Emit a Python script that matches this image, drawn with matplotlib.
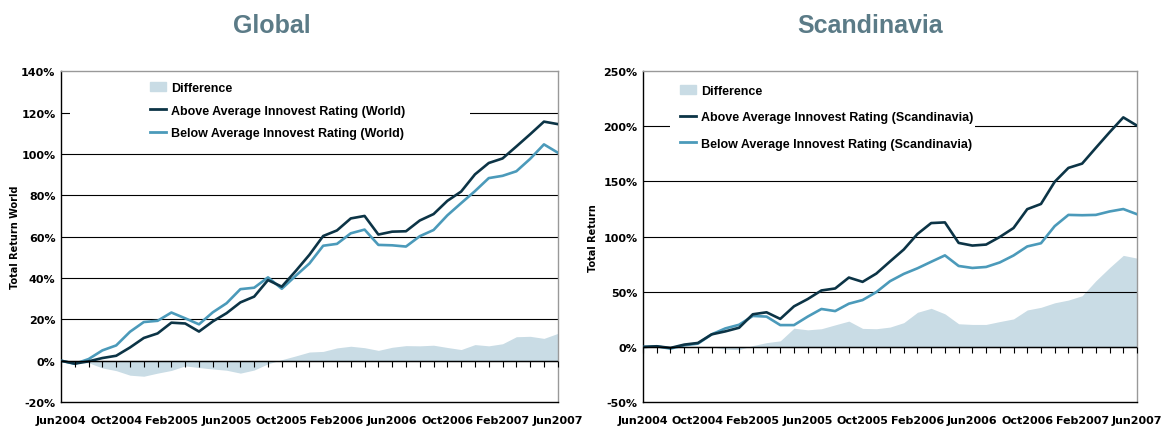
import numpy as np
import matplotlib.pyplot as plt
from matplotlib.patches import Patch, Rectangle

plt.rcParams['font.family'] = ['Liberation Sans', 'DejaVu Sans']

months = ['Jun2004', 'Jul2004', 'Aug2004', 'Sep2004', 'Oct2004', 'Nov2004', 'Dec2004', 'Jan2005',
          'Feb2005', 'Mar2005', 'Apr2005', 'May2005', 'Jun2005', 'Jul2005', 'Aug2005', 'Sep2005',
          'Oct2005', 'Nov2005', 'Dec2005', 'Jan2006', 'Feb2006', 'Mar2006', 'Apr2006', 'May2006',
          'Jun2006', 'Jul2006', 'Aug2006', 'Sep2006', 'Oct2006', 'Nov2006', 'Dec2006', 'Jan2007',
          'Feb2007', 'Mar2007', 'Apr2007', 'May2007', 'Jun2007']

# Global (World), in percent
world_above = [0, -1.4, -0.3, 1.3, 2.4, 6.4, 11.0, 13.2, 18.4, 18.0, 14.1, 19.0, 23.0, 28.2, 31.0,
               39.0, 35.8, 43.3, 51.2, 60.3, 63.0, 68.8, 70.0, 61.0, 62.4, 62.6, 67.8, 70.9, 77.3,
               81.8, 90.1, 95.6, 97.8, 103.6, 109.5, 115.6, 114.4]
world_below = [0, -1.5, 0.8, 5.0, 7.4, 14.0, 18.7, 19.3, 23.3, 20.5, 17.6, 23.4, 27.8, 34.6, 35.3,
               40.3, 34.8, 41.0, 47.0, 55.6, 56.5, 61.6, 63.4, 56.0, 55.8, 55.2, 60.2, 63.2, 70.3,
               76.2, 82.0, 88.3, 89.4, 91.6, 97.6, 104.6, 100.6]
world_diff = [0, -1.0, -1.0, -3.5, -4.8, -7.0, -7.5, -6.0, -4.7, -2.5, -3.3, -4.0, -4.6, -6.0, -4.5,
              -1.5, 0.5, 2.3, 4.2, 4.5, 6.2, 7.0, 6.3, 5.0, 6.5, 7.3, 7.2, 7.5, 6.4, 5.4, 7.8, 7.2,
              8.2, 11.6, 11.8, 10.8, 13.2]

# Scandinavia, in percent
scan_above = [0, 0.6, -0.9, 2.1, 3.6, 11.4, 14.1, 17.4, 29.6, 31.4, 25.4, 36.8, 43.4, 51.2, 53.0,
              62.9, 59.0, 66.5, 77.5, 88.3, 102.4, 112.3, 112.9, 94.3, 91.9, 92.8, 99.7, 107.8,
              124.9, 129.6, 149.7, 162.3, 166.2, 180.5, 194.6, 208.1, 200.6]
scan_below = [0, 0.5, -1.5, 1.5, 3.0, 11.4, 16.8, 20.1, 28.1, 27.5, 19.8, 19.8, 27.5, 34.4, 32.5,
              39.2, 42.5, 49.7, 59.6, 66.2, 71.3, 77.2, 83.0, 73.4, 71.6, 72.5, 76.6, 82.9, 91.1,
              94.0, 109.5, 119.7, 119.4, 119.7, 122.8, 125.0, 120.3]
scan_diff = [0, 0, 0, 0, 0.5, 0, -2.0, -2.5, 1.2, 3.9, 5.5, 17.0, 15.5, 16.5, 20.0, 23.4, 16.8,
             16.5, 18.0, 22.0, 31.4, 35.0, 30.0, 21.0, 20.4, 20.4, 23.0, 25.4, 33.5, 35.9, 40.0,
             42.5, 46.4, 60.0, 71.9, 83.0, 80.5]

dark = '#0c3446'
light = '#4b9aba'
fill = '#c9dce5'
title_col = '#5b7b87'
tick_font = {'family': 'DejaVu Sans', 'size': 8, 'weight': 'bold'}

fig = plt.figure(figsize=(11.62, 4.27), dpi=100)
ax1 = fig.add_axes([0.0525, 0.056, 0.4275, 0.775])
ax2 = fig.add_axes([0.5534, 0.056, 0.4251, 0.775])

x = np.arange(len(months))


def draw(ax, above, below, diff, region, ylim, ystep, ylabel, leg_xy, spacing, box):
    ax.fill_between(x, 0, diff, color=fill, lw=0, zorder=1)
    ax.plot(x, above, color=dark, lw=1.9, zorder=4)
    ax.plot(x, below, color=light, lw=1.9, zorder=3)
    ax.set_xlim(0, len(months) - 1)
    ax.set_ylim(*ylim)
    yt = np.arange(ylim[0], ylim[1] + 1, ystep)
    ax.set_yticks(yt)
    ax.set_yticklabels([f'{v}%' for v in yt], fontdict=tick_font)
    for v in yt[1:-1]:
        ax.axhline(v, color='black', lw=0.8, zorder=2)
    ax.axhline(0, color='black', lw=1.0, zorder=5)
    ax.set_xticks(x[::4])
    ax.set_xticklabels(months[::4], fontdict=tick_font)
    ax.tick_params(axis='x', length=0, pad=9)
    ax.tick_params(axis='y', length=0, pad=4)
    # small month ticks on the zero line
    sec = ax.secondary_xaxis(0, transform=ax.transData)
    sec.set_xticks(x)
    sec.set_xticklabels([])
    sec.tick_params(length=4, width=0.8, direction='out', color='black')
    sec.spines['bottom'].set_visible(False)
    sec.set_zorder(6)
    for s in ['top', 'right']:
        ax.spines[s].set_color('#999999')
        ax.spines[s].set_linewidth(1.0)
    for s in ['left', 'bottom']:
        ax.spines[s].set_color('black')
        ax.spines[s].set_linewidth(1.0)
    ax.set_ylabel(ylabel, family='DejaVu Sans', fontsize=7, fontweight='bold')
    # white box behind the legend that hides the grid line
    ax.add_patch(Rectangle((box[0], 0.78), box[1] - box[0], 0.215, transform=ax.transAxes,
                           facecolor='white', edgecolor='none', zorder=2.5))
    handles = [Patch(color=fill),
               plt.Line2D([], [], color=dark, lw=2),
               plt.Line2D([], [], color=light, lw=2)]
    labels = ['Difference',
              f'Above Average Innovest Rating ({region})',
              f'Below Average Innovest Rating ({region})']
    leg = ax.legend(handles, labels, loc='upper left', bbox_to_anchor=leg_xy,
                    frameon=False, handlelength=1.3, handletextpad=0.4,
                    labelspacing=spacing, borderpad=0, borderaxespad=0,
                    prop={'size': 9, 'weight': 'bold'})
    leg.set_zorder(7)


draw(ax1, world_above, world_below, world_diff, 'World', (-20, 140), 20, 'Total Return World',
     (0.179, 0.968), 0.86, (0.018, 0.823))
ax1.yaxis.set_label_coords(-0.082, 0.5)
draw(ax2, scan_above, scan_below, scan_diff, 'Scandinavia', (-50, 250), 50, 'Total Return',
     (0.075, 0.958), 1.14, (0.055, 0.672))
ax2.yaxis.set_label_coords(-0.092, 0.5)

fig.text(0.234, 0.94, 'Global', fontsize=18, fontweight='bold', color=title_col, ha='center', va='center')
fig.text(0.749, 0.94, 'Scandinavia', fontsize=18, fontweight='bold', color=title_col, ha='center', va='center')

fig.savefig('out.png', dpi=100)
plt.close(fig)
